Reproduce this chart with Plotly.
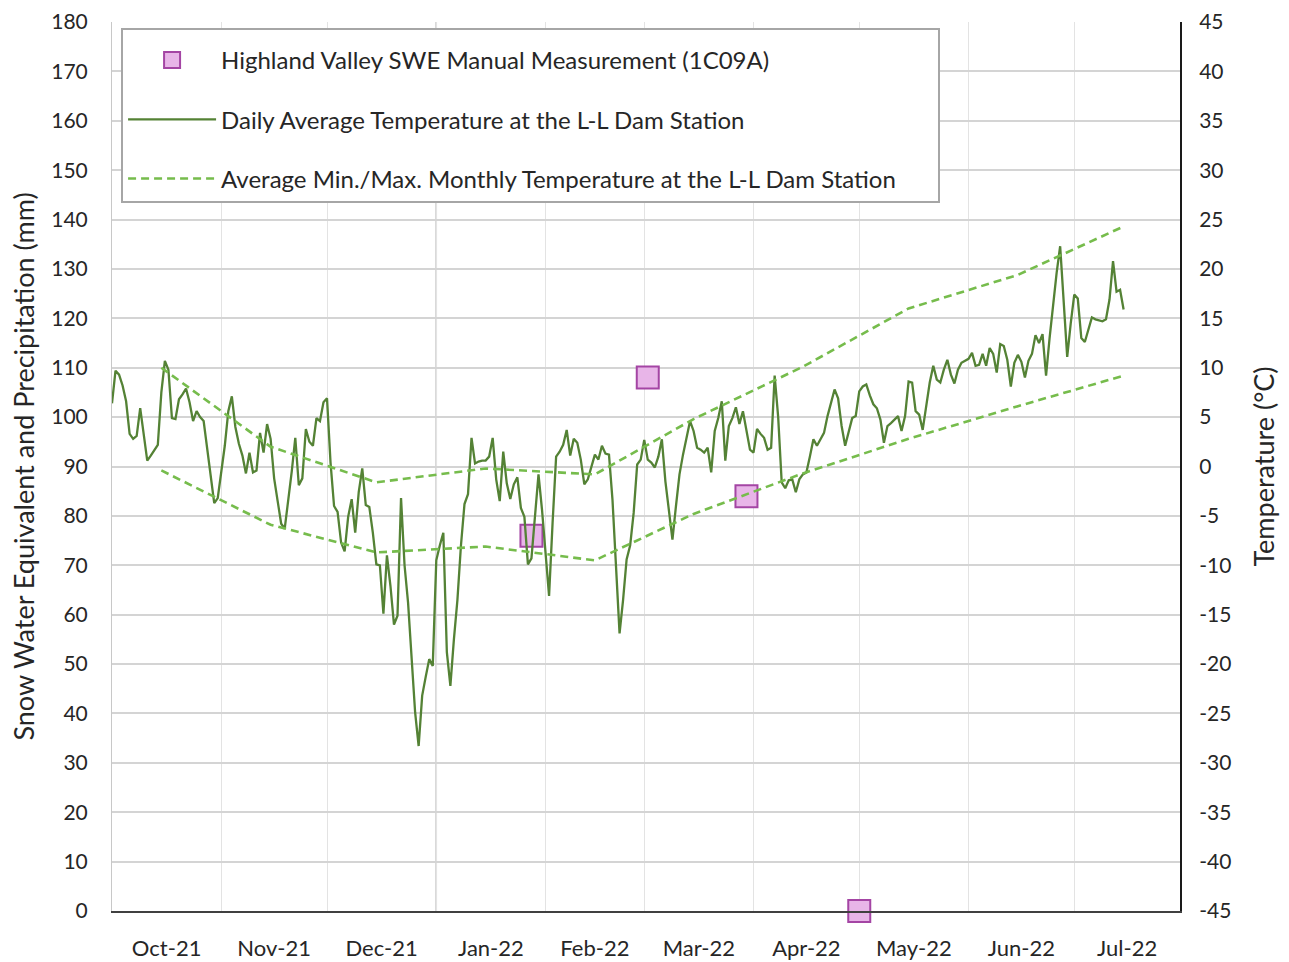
import pandas as pd
import plotly.graph_objects as go

# ---------------- data ----------------
start_date = "2021-10-01"
daily_temp = [
    6.4, 9.7, 9.3, 8.2, 6.6, 3.3, 2.8, 3.1, 5.9, 3.0,
    0.6, 1.1, 1.6, 2.2, 7.5, 10.7, 9.8, 4.9, 4.8, 6.8,
    7.3, 7.9, 6.5, 4.6, 5.6, 5.0, 4.6, 1.8, -0.5, -3.7,
    -3.2, -0.5, 2.1, 5.6, 7.1, 4.0, 2.3, 1.1, -0.7, 1.4,
    -0.6, -0.4, 3.4, 1.4, 4.3, 2.8, -1.2, -3.5, -5.8, -6.3,
    -3.5, -0.5, 2.9, -1.9, -1.2, 3.8, 2.5, 2.1, 4.9, 4.6,
    6.5, 6.9, 0.4, -4.0, -4.6, -7.7, -8.6, -5.1, -3.3, -6.7,
    -2.6, -0.2, -3.9, -4.1, -6.7, -9.9, -10.0, -14.9, -9.0, -12.1,
    -16.0, -15.1, -3.2, -10.0, -13.8, -19.8, -24.9, -28.3, -23.2, -21.3,
    -19.5, -20.2, -9.5, -8.0, -6.7, -18.8, -22.2, -17.5, -13.5, -8.0,
    -3.8, -2.8, 2.9, 0.3, 0.5, 0.6, 0.6, 1.0, 2.9, -1.3,
    -3.5, 1.5, -1.7, -3.3, -1.8, -1.1, -4.2, -5.1, -9.9, -9.3,
    -5.1, -0.8, -4.4, -8.4, -13.1, -5.7, 1.0, 1.5, 2.2, 3.7,
    1.1, 2.8, 2.4, 0.7, -1.8, -1.3, 0.0, 1.2, 0.7, 2.1,
    1.3, 1.2, -3.4, -10.1, -16.9, -13.5, -9.4, -8.0, -4.7, 0.2,
    0.7, 2.7, 0.7, 0.4, -0.1, 1.0, 2.75, -1.5, -4.5, -7.4,
    -4.0, -0.8, 1.2, 3.0, 4.6, 3.6, 1.9, 1.7, 1.4, 1.9,
    -0.6, 3.6, 4.9, 6.6, 0.6, 4.1, 4.9, 6.0, 4.3, 5.6,
    3.6, 1.7, 1.4, 3.8, 3.3, 2.9, 1.7, 1.9, 9.2, 5.0,
    -1.6, -2.2, -1.4, -1.3, -2.6, -1.3, -0.8, -0.6, 1.0, 2.75,
    2.1, 2.8, 3.4, 5.1, 6.5, 7.8, 6.9, 4.1, 2.1, 3.4,
    4.9, 5.1, 7.6, 8.1, 8.3, 7.2, 6.3, 5.9, 4.75, 2.4,
    4.1, 4.4, 4.8, 5.1, 3.6, 5.1, 8.6, 8.5, 5.6, 5.25,
    3.7, 6.1, 8.5, 10.2, 8.8, 8.5, 9.8, 10.8, 9.3, 8.4,
    9.8, 10.5, 10.7, 10.9, 11.5, 10.2, 10.3, 11.4, 10.2, 12.0,
    11.4, 9.5, 12.4, 12.2, 10.8, 8.1, 10.5, 11.3, 10.6, 9.0,
    10.7, 11.4, 13.3, 12.5, 13.4, 9.2, 13.0, 16.5, 19.6, 22.3,
    17.2, 11.1, 14.5, 17.4, 17.0, 13.0, 12.6, 14.0, 15.1, 14.9,
    14.8, 14.7, 14.9, 16.9, 20.8, 17.7, 17.9, 15.9,
]
daily_dates = pd.date_range(start_date, periods=len(daily_temp), freq="D")

month_dates = ["2021-10-15", "2021-11-15", "2021-12-15", "2022-01-15", "2022-02-15",
               "2022-03-15", "2022-04-15", "2022-05-15", "2022-06-15", "2022-07-15"]
monthly_max = [10.0, 2.0, -1.6, -0.2, -0.8, 4.8, 10.1, 16.0, 19.4, 24.3]
monthly_min = [-0.4, -5.9, -8.7, -8.1, -9.5, -4.8, -0.7, 2.8, 6.1, 9.2]

swe_dates = ["2022-01-28", "2022-03-02", "2022-03-30", "2022-05-01"]
swe_values = [76, 108, 84, 0]

temp_tick_vals = [-45, -40, -35, -30, -25, -20, -15, -10, -5, 0, 5, 10, 15, 20, 25, 30, 35, 40, 45]
temp_tick_text = ["-45", "-40", "-35", "-30", "-25", "-20", "-15", "-10", "-5", "0",
                  "5", "10", "15", "20", "25", "30", "35", "40", "45"]

# ---------------- styling ----------------
FONT = "Lato"
TXT = "#262626"
DARK_GREEN = "#548235"
LIGHT_GREEN = "#76BC4C"

fig = go.Figure()

fig.add_trace(go.Scatter(
    x=swe_dates, y=swe_values, mode="markers", yaxis="y",
    name="Highland Valley SWE Manual Measurement (1C09A)",
    marker=dict(symbol="square", size=22, color="#E8B5E8",
                line=dict(color="#A445A4", width=2)),
    legendgroup="a", cliponaxis=False,
))
fig.add_trace(go.Scatter(
    x=daily_dates, y=daily_temp, mode="lines", yaxis="y2",
    name="Daily Average Temperature at the L-L Dam Station",
    line=dict(color=DARK_GREEN, width=2.3),
    legendgroup="b",
))
fig.add_trace(go.Scatter(
    x=month_dates, y=monthly_max, mode="lines", yaxis="y2",
    name="Average Min./Max. Monthly Temperature at the L-L Dam Station\u00a0\u00a0\u00a0\u00a0\u00a0\u00a0",
    line=dict(color=LIGHT_GREEN, width=2.6, dash="8px,5px"),
    legendgroup="c",
))
fig.add_trace(go.Scatter(
    x=month_dates, y=monthly_min, mode="lines", yaxis="y2",
    name="Average Min./Max. Monthly Temperature at the L-L Dam Station",
    line=dict(color=LIGHT_GREEN, width=2.6, dash="8px,5px"),
    legendgroup="c", showlegend=False,
))

# darker separator at Jan 1
fig.add_shape(type="line", xref="x", yref="paper", x0="2022-01-01", x1="2022-01-01",
              y0=0, y1=1, line=dict(color="#B0B0B0", width=1.5), layer="below")

fig.update_layout(
    width=1289, height=962,
    margin=dict(l=112, r=109, t=22, b=51, autoexpand=False),
    paper_bgcolor="white", plot_bgcolor="white",
    font=dict(family=FONT, color=TXT, size=20),
    showlegend=True,
    legend=dict(
        x=0.0085, y=0.993, xanchor="left", yanchor="top",
        bgcolor="white", bordercolor="#A6A6A6", borderwidth=2,
        font=dict(family=FONT, size=24, color=TXT),
        traceorder="grouped", tracegroupgap=25, itemwidth=88,
        title=dict(text=" ", font=dict(size=6)),
    ),
    xaxis=dict(
        type="date",
        range=["2021-10-01", "2022-07-31"],
        dtick="M1", tick0="2021-10-01",
        tickformat="%b-%y", ticklabelmode="period",
        showgrid=True, gridcolor="#E3E3E3", gridwidth=1,
        showline=True, linecolor="#404040", linewidth=2,
        ticks="", ticklabelstandoff=17,
        tickfont=dict(size=22, color=TXT),
        zeroline=False, automargin=False,
    ),
    yaxis=dict(
        range=[0, 180], dtick=10, tick0=0,
        showgrid=True, gridcolor="#D4D4D4", gridwidth=1.5,
        showline=True, linecolor="#C8C8C8", linewidth=1,
        ticks="", ticklabelstandoff=19,
        tickfont=dict(size=21, color=TXT),
        title=dict(text="Snow Water Equivalent and Precipitation (mm)",
                   font=dict(size=27, color=TXT), standoff=8),
        zeroline=False, automargin=False,
    ),
    yaxis2=dict(
        range=[-45, 45], tickvals=temp_tick_vals, ticktext=temp_tick_text,
        overlaying="y", side="right",
        showgrid=False,
        showline=True, linecolor="#1A1A1A", linewidth=2,
        ticks="", ticklabelstandoff=13,
        tickfont=dict(size=21, color=TXT),
        title=dict(text="Temperature (°C)", font=dict(size=27, color=TXT), standoff=25),
        zeroline=False, automargin=False,
    ),
)

fig.write_html(
    "out.html",
    config={"displayModeBar": False},
    post_script="document.body.style.margin='0';document.body.style.overflow='hidden';",
)
